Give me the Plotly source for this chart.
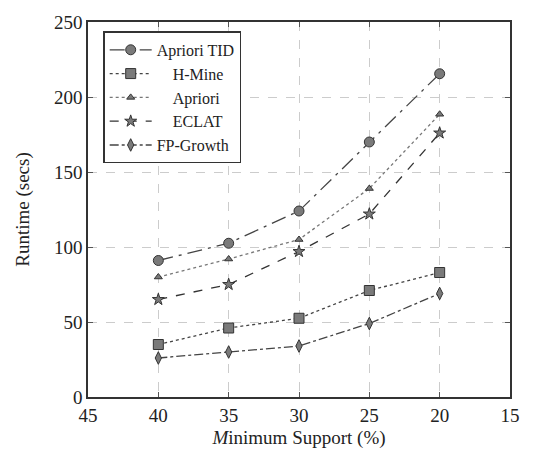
import plotly.graph_objects as go

# Minimum support thresholds (%)
support = [40, 35, 30, 25, 20]

# Runtime in seconds for each algorithm
apriori_tid = [91, 102.5, 124, 170, 215.5]
h_mine = [35, 46, 52.5, 71, 83]
apriori = [80, 92, 105, 139, 188.5]
eclat = [65, 75, 97, 122, 176]
fp_growth = [26, 30, 34, 49, 69]

names = ["Apriori TID", "H-Mine", "Apriori", "ECLAT", "FP-Growth"]
series = [apriori_tid, h_mine, apriori, eclat, fp_growth]
dashes = ["longdashdot", "dot", "dot", "dash", "dashdot"]
symbols = ["circle", "square", "triangle-up", "star", "diamond-tall"]
sizes = [10, 10, 7, 9, 9]
line_colors = ["#444444", "#444444", "#777777", "#333333", "#444444"]
labels = ["Apriori TID", "\u2007\u2007H-Mine", "\u2007\u2007Apriori", "\u2007\u2007ECLAT", "FP-Growth"]

FONT = "Liberation Serif"

fig = go.Figure()
for lab, ys, d, s, sz, lc in zip(labels, series, dashes, symbols, sizes, line_colors):
    fig.add_trace(go.Scatter(
        x=support, y=ys, name=lab, mode="lines+markers",
        line=dict(color=lc, width=1.3, dash=d),
        marker=dict(symbol=s, size=sz, color="#7a7a7a",
                    line=dict(color="#333333", width=1)),
    ))

axis_common = dict(
    showline=True, linecolor="#333333", linewidth=1.5, mirror="ticks",
    ticks="inside", ticklen=5, tickcolor="#555555",
    showgrid=True, gridcolor="#cccccc", griddash="dash", gridwidth=1,
    zeroline=False,
    tickfont=dict(family=FONT, size=19, color="#222222"),
)

fig.update_xaxes(
    range=[45, 15], tickvals=[45, 40, 35, 30, 25, 20, 15],
    title=dict(text="<i>M</i>inimum Support (%)", font=dict(family=FONT, size=19, color="#222222"), standoff=6),
    **axis_common,
)
fig.update_yaxes(
    range=[0, 250], tickvals=[0, 50, 100, 150, 200, 250],
    title=dict(text="Runtime (secs)", font=dict(family=FONT, size=19, color="#222222"), standoff=19),
    **axis_common,
)

fig.update_layout(
    width=539, height=463,
    margin=dict(l=88, r=29, t=19, b=66),
    paper_bgcolor="white", plot_bgcolor="white",
    showlegend=True,
    legend=dict(
        x=0.036, y=0.975, xanchor="left", yanchor="top",
        bgcolor="white", bordercolor="#333333", borderwidth=1.5,
        font=dict(family=FONT, size=16, color="#222222"),
        itemwidth=42, tracegroupgap=0,
    ),
)

fig.write_html("out.html")
